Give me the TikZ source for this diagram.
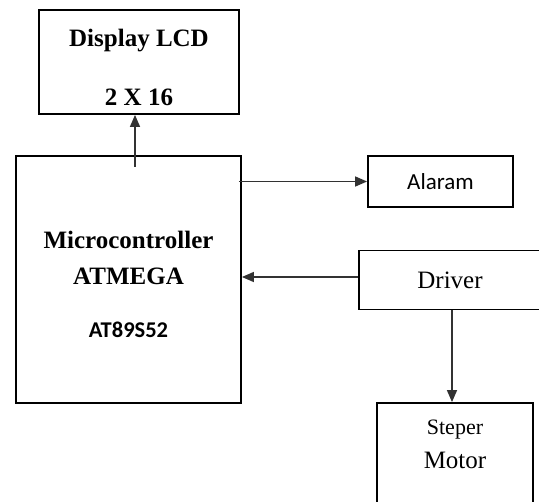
\documentclass[tikz,border=0pt]{standalone}
\usepackage{fontspec}
\setmainfont{Liberation Serif}
\newfontfamily\calfont{Carlito}
\usetikzlibrary{arrows.meta,positioning,calc}
\definecolor{linkgray}{RGB}{50,50,50}

\begin{document}
\begin{tikzpicture}[
    x=1pt,y=-1pt,
    box/.style={draw,line width=1.8pt,inner sep=0pt},
    txt/.style={align=center,font=\fontsize{25}{30}\selectfont},
    link/.style={-{Triangle[length=12pt,width=10pt]},line width=1.4pt,linkgray}
]
\useasboundingbox (0,0) rectangle (539,502);

\node[box,minimum width=200,minimum height=104] (lcd) at (139,62) {};
\node[txt,font=\fontsize{25}{30}\selectfont\bfseries] (lcdtext) at (139,67.5) {Display LCD\\[29pt]2 X 16};

\node[box,minimum width=225,minimum height=247] (micro) at (128.5,279.5) {};
\node[txt,font=\fontsize{25}{36}\selectfont\bfseries] (microtext) at (128.5,284)
    {Microcontroller\\ATMEGA\\[17pt]{\calfont\fontsize{22.5}{26}\selectfont AT89S52}};

\node[box,minimum width=145,minimum height=51,txt,font=\calfont\fontsize{23}{28}\selectfont] (alarm) at (440.5,181.5) {Alaram};
\node[box,minimum width=182,minimum height=59,txt] (driver) at (450,280) {Driver};

\node[box,minimum width=156,minimum height=126] (motor) at (455,466) {};
\node[txt] (motortext) at (455,444) {{\fontsize{22}{26}\selectfont Steper}\\[4pt]Motor};

\coordinate (lcdfoot) at (135,167);
\draw[link] (lcdfoot) -- (lcd.south -| lcdfoot);
\draw[link] ($(micro.east |- alarm.west)+(-3,0)$) -- (alarm.west);
\draw[link] (driver.west |- 0,277) -- (micro.east |- 0,277);
\draw[link] (driver.south -| 452,0) -- (motor.north -| 452,0);
\end{tikzpicture}
\end{document}
